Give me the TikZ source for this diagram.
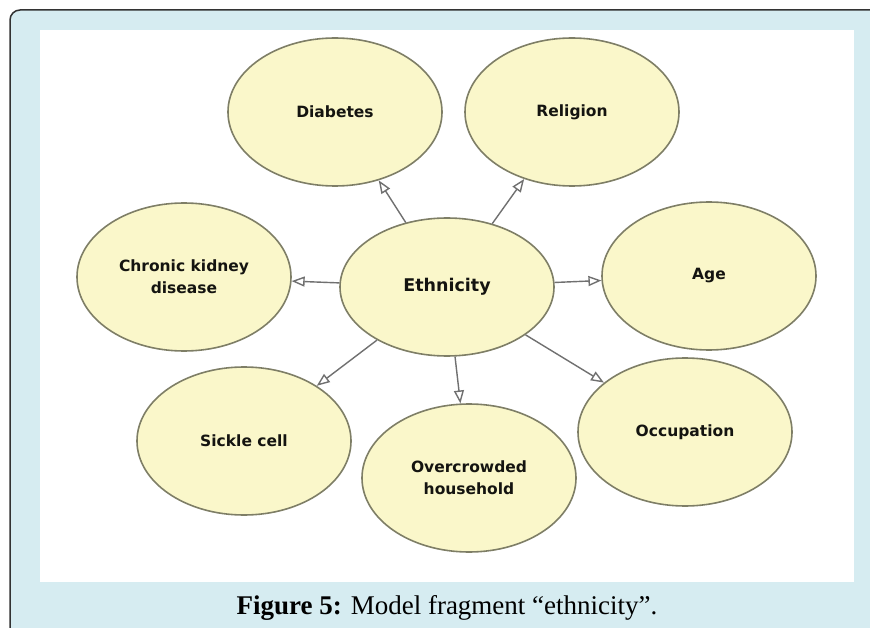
\documentclass[tikz,border=0pt]{standalone}
\usepackage{fontspec}
\setmainfont{Liberation Serif}
\newfontfamily\bubblefont{DejaVu Sans}
\usetikzlibrary{arrows.meta, shapes.geometric}
\definecolor{panelblue}{HTML}{D6ECF1}
\definecolor{bubble}{HTML}{FAF7CA}
\definecolor{rim}{HTML}{7E7E66}
\definecolor{wire}{HTML}{707070}
\definecolor{ink}{HTML}{141410}

\begin{document}
\begin{tikzpicture}[x=1pt, y=-1pt,
  concept/.style={ellipse, draw=rim, fill=bubble, line width=1.6pt,
    minimum width=214pt, minimum height=148pt, inner sep=0pt, align=center,
    text=ink, font=\bubblefont\bfseries\fontsize{15.5}{22}\selectfont},
  link/.style={draw=wire, line width=1.4pt, -{Triangle[open, length=13pt, width=10pt]}}]
\clip (0,0) rectangle (870,628);
\fill [white] (0,0) rectangle (870,628);
\filldraw [fill=panelblue, draw=black!80, line width=1.5pt, rounded corners=10pt] (10,10) rectangle (900,660);
\fill [white] (40,30) rectangle (854,582);

\node [concept] (dia) at (335,112) {Diabetes};
\node [concept] (rel) at (572,112) {Religion};
\node [concept] (ckd) at (184,277) {Chronic kidney\\disease};
\node [concept, minimum height=138pt, font=\bubblefont\bfseries\fontsize{17.5}{22}\selectfont] (eth) at (447,287) {Ethnicity};
\node [concept] (age) at (709,276) {Age};
\node [concept] (sic) at (244,441) {Sickle cell};
\node [concept] (ovc) at (469,478) {Overcrowded\\household};
\node [concept] (occ) at (685,432) {Occupation};

\draw [link] (eth) -- (dia);
\draw [link] (eth) -- (rel);
\draw [link] (eth) -- (ckd);
\draw [link] (eth) -- (age);
\draw [link] (eth) -- (sic);
\draw [link] (eth) -- (ovc);
\draw [link] (eth) -- (occ);

\node [anchor=base, font=\fontsize{27}{30}\selectfont] (cap) at (447,614) {\textbf{Figure 5:} Model fragment “ethnicity”.};
\end{tikzpicture}
\end{document}
